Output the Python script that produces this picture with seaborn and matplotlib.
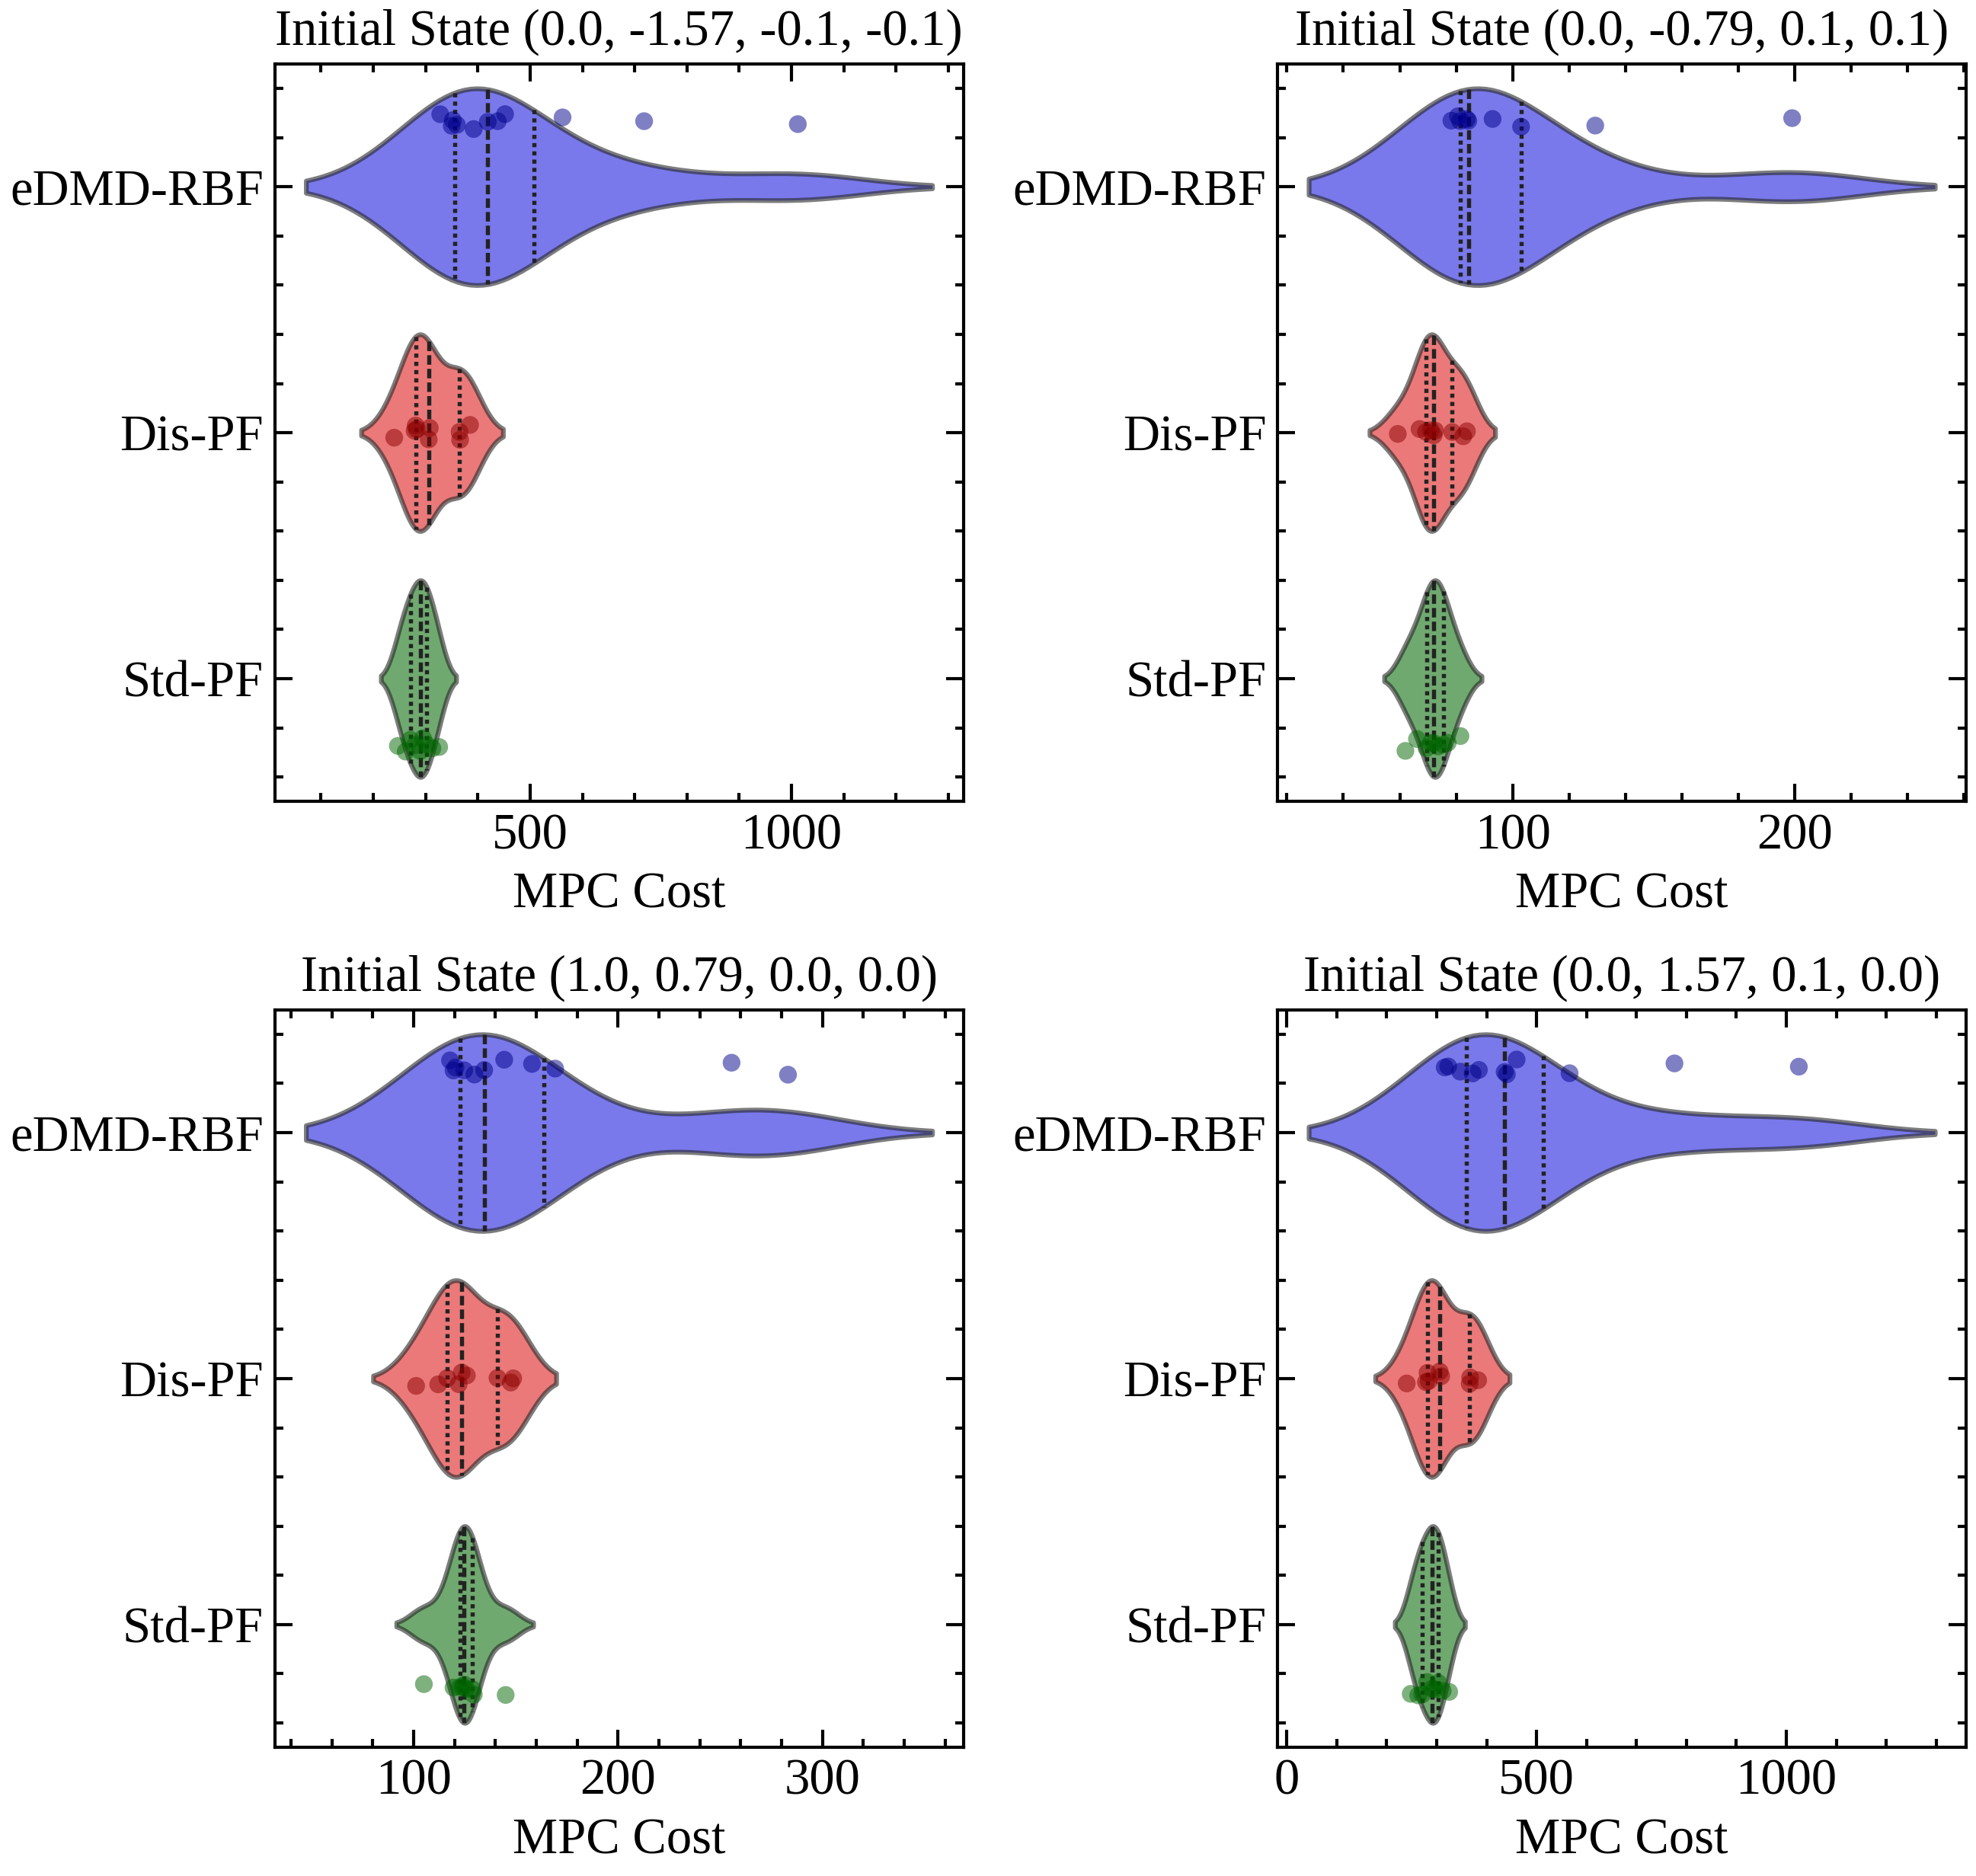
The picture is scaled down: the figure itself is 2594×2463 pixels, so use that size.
import numpy as np
import pandas as pd
import matplotlib
matplotlib.use("Agg")
import matplotlib.pyplot as plt
from matplotlib.ticker import MultipleLocator, AutoMinorLocator
import seaborn as sns

methods = ["eDMD-RBF", "Dis-PF", "Std-PF"]
titles = ["Initial State (0.0, -1.57, -0.1, -0.1)",
          "Initial State (0.0, -0.79, 0.1, 0.1)",
          "Initial State (1.0, 0.79, 0.0, 0.0)",
          "Initial State (0.0, 1.57, 0.1, 0.0)"]

# MPC cost per run
edmd_1 = [328, 350, 352, 360, 392, 419, 438, 452, 562, 718, 1012]
dis_1 = [240, 279, 281, 283, 306, 308, 365, 366, 385]
std_1 = [247, 262, 271, 280, 290, 295, 302.5, 313, 326]

edmd_2 = [78.3, 80.6, 81.4, 83.8, 84.3, 92.9, 103, 129.3, 199.1]
dis_2 = [59.3, 67, 69.3, 71, 72, 72.5, 78.6, 82.5, 83.8]
std_2 = [62, 66.1, 69.5, 71, 72, 73.5, 75.4, 77, 81.5]

edmd_3 = [117.8, 119.5, 120.5, 124.7, 129.7, 134.5, 144.3, 157.9, 169.2, 255.5, 283.1]
dis_3 = [101.2, 112, 116.4, 122, 123.5, 126, 141, 147.5, 148.7]
std_3 = [105, 119.5, 122.6, 123.9, 124.7, 125.7, 128.8, 129.4, 145]

edmd_4 = [316, 323, 347, 372, 384.5, 436, 440.5, 460, 566, 776, 1025]
dis_4 = [240, 278.5, 281.6, 284, 306, 309, 366, 367, 383]
std_4 = [248, 263, 271, 281, 290.7, 296, 303, 312, 325]

panels = [(edmd_1, dis_1, std_1), (edmd_2, dis_2, std_2),
          (edmd_3, dis_3, std_3), (edmd_4, dis_4, std_4)]
major_steps = [500, 100, 100, 500]

plt.rcParams.update({
    "font.family": ["Liberation Serif", "DejaVu Serif"],
    "font.size": 16,
    "axes.linewidth": 1.0,
    "xtick.direction": "in",
    "ytick.direction": "in",
    "xtick.top": True,
    "ytick.right": True,
    "xtick.major.size": 5.5,
    "ytick.major.size": 5.5,
    "xtick.minor.size": 2.6,
    "ytick.minor.size": 2.6,
    "xtick.major.width": 1.0,
    "ytick.major.width": 1.0,
    "xtick.minor.width": 1.0,
    "ytick.minor.width": 1.0,
})

np.random.seed(7)  # strip jitter

fig, axes = plt.subplots(2, 2, figsize=(2594 / 300, 2463 / 300), dpi=300)
fig.subplots_adjust(left=0.139, right=0.995, bottom=0.0685, top=0.966,
                    wspace=0.456, hspace=0.282)

for ax, title, groups, step in zip(axes.flat, titles, panels, major_steps):
    df = pd.DataFrame({
        "method": np.repeat(methods, [len(g) for g in groups]),
        "cost": np.concatenate(groups),
    })
    sns.violinplot(data=df, x="cost", y="method", hue="method",
                   order=methods, hue_order=methods,
                   palette=["blue", "red", "green"], inner="quart",
                   density_norm="width", linewidth=1.5, alpha=0.6,
                   legend=False, ax=ax)
    # quartile lines: short even dots, median: longer dashes
    for i, line in enumerate(ax.lines):
        line.set_linewidth(1.3)
        line.set_color("#222222")
        line.set_dashes((2.3, 1) if i % 3 == 1 else (1, 1))
    sns.stripplot(data=df, x="cost", y="method", hue="method",
                  order=methods, hue_order=methods,
                  palette=["darkblue", "darkred", "darkgreen"],
                  dodge=True, alpha=0.5, size=5.6, legend=False, ax=ax)
    ax.set_title(title, fontsize=16)
    ax.set_xlabel("MPC Cost")
    ax.set_ylabel("")
    ax.xaxis.set_major_locator(MultipleLocator(step))
    ax.xaxis.set_minor_locator(AutoMinorLocator(5))
    ax.yaxis.set_minor_locator(AutoMinorLocator(5))
    ax.tick_params(which="both", top=True, right=True, direction="in")

fig.savefig("out.png", dpi=300)
